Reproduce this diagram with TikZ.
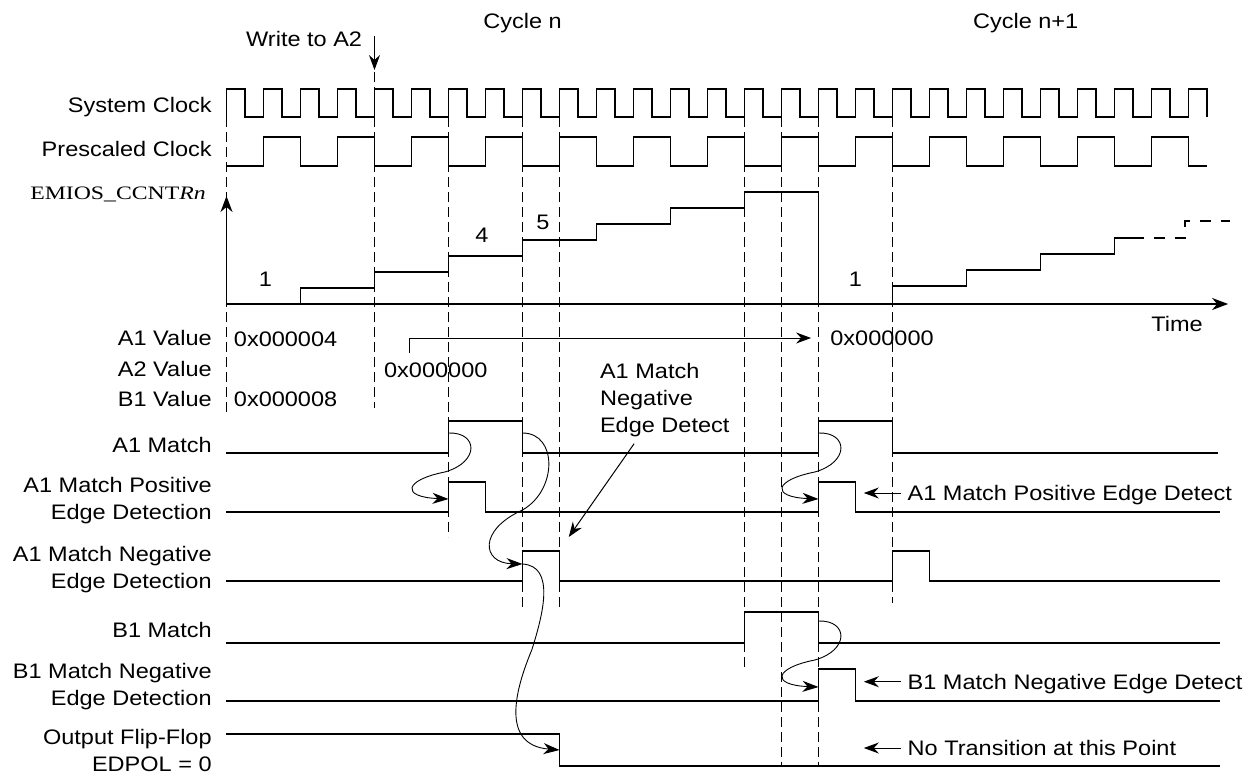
\documentclass[tikz,border=0pt]{standalone}
\usepackage{fontspec}
\setmainfont{Liberation Sans}[FakeStretch=1.12]
\newfontfamily\ccntfont{Liberation Serif}[FakeStretch=1.25]
\usetikzlibrary{arrows.meta,positioning}

\begin{document}
\begin{tikzpicture}[
  x=9.25pt, y=-0.5pt,
  every node/.style={font=\fontsize{10.5}{13.5}\selectfont},
  lbl/.style={anchor=base east, inner sep=0pt, align=right},
  txt/.style={anchor=base west, inner sep=0pt},
  note/.style={text depth=0pt},
  sig/.style={line width=0.8pt},
  grid/.style={line width=0.7pt, dash pattern=on 5pt off 2.5pt},
  flow/.style={line width=0.45pt, -{Stealth[length=8pt,width=5.5pt,inset=2.5pt]}},
  ptr/.style={line width=0.5pt, -{Stealth[length=7.5pt,width=5.5pt,inset=2.5pt]}},
  axis/.style={line width=0.8pt, -{Stealth[length=8pt,width=6pt,inset=2.5pt]}}
]
\fill[white] (-12.2432,0) rectangle (55.6486,776);
\useasboundingbox (-12.2432,0) rectangle (55.6486,776);

\node[anchor=base] (cyn) at (16,28) {Cycle n};
\node[anchor=base] (cyn1) at (43.2,28) {Cycle n+1};
\node[lbl] (wr) at (7.35,46.7) {Write to A2};
\coordinate (wa) at (8,36);
\coordinate (wb) at (8,70);
\draw[ptr] (wa) -- (wb);

\node[lbl] (sclk) at (-0.78,112.7) {System Clock};
\node[lbl] (pclk) at (-0.78,156.7) {Prescaled Clock};
\node[lbl, font=\ccntfont\fontsize{9.5}{11}\selectfont] (ccnt) at (-1.1,199) {EMIOS\_CCNT\textit{Rn}};
\node[lbl] (a1v) at (-0.78,345) {A1 Value};
\node[lbl] (a2v) at (-0.78,376) {A2 Value};
\node[lbl] (b1v) at (-0.78,406) {B1 Value};
\node[lbl] (a1m) at (-0.78,452.7) {A1 Match};
\node[lbl] (a1p) at (-0.78,519.3) {A1 Match Positive\\Edge Detection};
\node[lbl] (a1n) at (-0.78,588.3) {A1 Match Negative\\Edge Detection};
\node[lbl] (b1m) at (-0.78,637.3) {B1 Match};
\node[lbl] (b1n) at (-0.78,705.7) {B1 Match Negative\\Edge Detection};
\node[lbl] (off) at (-0.78,771.7) {Output Flip-Flop\\EDPOL = 0};

\foreach \n/\a/\b in {0/117/413, 8/72/408, 12/117/537, 16/117/607, 18/117/607, 28/117/668, 30/117/766, 32/117/766, 36/117/603}
  \draw[grid] (\n,\a) -- (\n,\b);

\draw[sig] (0,117) \foreach \k in {0,...,26} { -- (2*\k,117) -- (2*\k,89) -- (2*\k+1,89) -- (2*\k+1,117) };
\draw[sig] (0,166) \foreach \k in {0,...,12} { -- (4*\k+2,166) -- (4*\k+2,137) -- (4*\k+4,137) -- (4*\k+4,166) } -- (53,166);

\coordinate (o) at (0,304);
\coordinate (yax) at (0,196);
\coordinate (tax) at (54.14,304);
\draw[axis] (o) -- (yax);
\draw[axis] (o) -- (tax);
\draw[sig] (4,304) \foreach \k in {1,...,7} { -- (4*\k,304-16*\k) -- (4*\k+4,304-16*\k) } -- (32,304);
\draw[sig] (36,304) \foreach \k in {1,...,3} { -- (32+4*\k,302-16*\k) -- (36+4*\k,302-16*\k) } -- (48,238) -- (49.6,238);
\draw[sig, dash pattern=on 5.5pt off 5pt, dash phase=5.5pt] (49.6,238) -- (51.8,238) -- (51.8,221) -- (54.22,221);
\node[anchor=base] at (2.1,286) {1};
\node[anchor=base] at (13.8,242) {4};
\node[anchor=base] at (17.1,229) {5};
\node[anchor=base] at (34,286) {1};
\node[txt] (time) at (49.97,331.7) {Time};

\node[txt] (v1) at (0.38,346.7) {0x000004};
\node[txt] (v2) at (8.5,377.3) {0x000000};
\node[txt] (v3) at (0.38,406) {0x000008};
\node[txt] (v4) at (32.62,345) {0x000000};
\coordinate (a2s) at (9.9,353);
\coordinate (a1e) at (31.6,338);
\draw[ptr] (a2s) |- (a1e);

\draw[sig] (0,453) -- (12,453) -- (12,421) -- (16,421) -- (16,453) -- (32,453) -- (32,421) -- (36,421) -- (36,453) -- (53.6,453);
\draw[sig] (0,512) -- (12,512) -- (12,482) -- (14,482) -- (14,512) -- (32,512) -- (32,482) -- (34,482) -- (34,512) -- (53.7,512);
\draw[sig] (0,581) -- (16,581) -- (16,551) -- (18,551) -- (18,581) -- (36,581) -- (36,551) -- (38,551) -- (38,581) -- (53.7,581);
\draw[sig] (0,643) -- (28,643) -- (28,612) -- (32,612) -- (32,643) -- (53.7,643);
\draw[sig] (0,701) -- (32,701) -- (32,669) -- (34,669) -- (34,701) -- (53.7,701);
\draw[sig] (0,734) -- (18,734) -- (18,766) -- (53.7,766);

\node[align=left, anchor=north west] (and) at (19.81,356) {A1 Match\\Negative\\Edge Detect};
\coordinate (ant) at (18.5,537);
\draw[ptr] (and) -- (ant);

\coordinate (a1pt) at (34.45,493);
\coordinate (b1nt) at (34.45,681.7);
\coordinate (ntt) at (34.45,748);
\node[note, right=18.4pt of a1pt] (a1pe) {A1 Match Positive Edge Detect};
\node[note, right=18.4pt of b1nt] (b1ne) {B1 Match Negative Edge Detect};
\node[note, right=18.4pt of ntt] (notr) {No Transition at this Point};
\draw[ptr] (a1pe) -- (a1pt);
\draw[ptr] (b1ne) -- (b1nt);
\draw[ptr] (notr) -- (ntt);

\coordinate (m1a) at (12,433);
\coordinate (p1a) at (12,499);
\coordinate (m1b) at (16,433);
\coordinate (n1a) at (16,564);
\coordinate (ffa) at (18,750);
\coordinate (m2a) at (32,433);
\coordinate (p2a) at (32,499);
\coordinate (b1a) at (32,621);
\coordinate (bn1a) at (32,687);
\draw[flow] (m1a) .. controls (13.6,432) and (13.7,462) .. (11.8,472) .. controls (9.6,480) and (9.4,497) .. (p1a);
\draw[flow] (m1b) .. controls (17.9,433) and (17.9,490) .. (16,510) .. controls (13.6,530) and (13.8,563) .. (n1a);
\draw[flow] (n1a) .. controls (17.8,566) and (17.1,615) .. (16.5,650) .. controls (15.6,690) and (14.8,745) .. (ffa);
\draw[flow] (m2a) .. controls (33.6,432) and (33.7,462) .. (31.8,472) .. controls (29.6,480) and (29.4,497) .. (p2a);
\draw[flow] (b1a) .. controls (33.6,620) and (33.7,650) .. (31.8,660) .. controls (29.6,668) and (29.4,685) .. (bn1a);
\end{tikzpicture}
\end{document}
